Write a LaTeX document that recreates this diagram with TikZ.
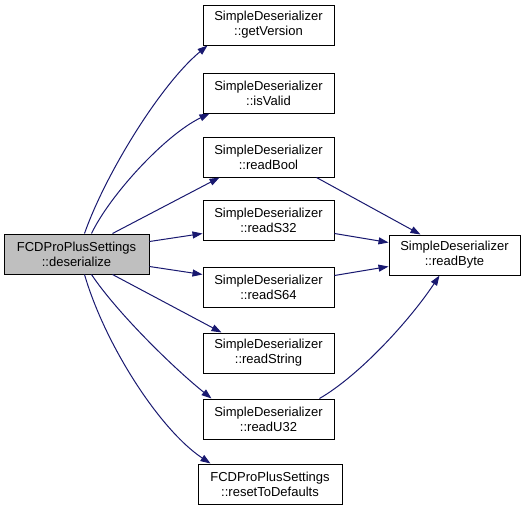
\documentclass[tikz,border=0pt]{standalone}
\usepackage{fontspec}
\setmainfont{Liberation Sans}
\usetikzlibrary{arrows.meta,calc}
\definecolor{edgeblue}{HTML}{191970}
\definecolor{hlgray}{HTML}{BFBFBF}
\begin{document}
\begin{tikzpicture}[x=1pt,y=-1pt,
  fn/.style={draw=black,line width=1pt,fill=white,minimum width=131pt,minimum height=40pt,
    inner sep=0pt,align=center,font=\fontsize{13}{15}\selectfont},
  call/.style={draw=edgeblue,line width=1pt,-{Triangle[length=10pt,width=7pt]},fill=none}]
\useasboundingbox (0,0) rectangle (525,509);
\node[fn,fill=hlgray,minimum width=145pt] (des) at (76.5,254) {FCDProPlusSettings\\::deserialize};
\node[fn] (gv) at (268.5,25) {SimpleDeserializer\\::getVersion};
\node[fn] (iv) at (268.5,93) {SimpleDeserializer\\::isValid};
\node[fn] (rb) at (268.5,157) {SimpleDeserializer\\::readBool};
\node[fn] (rs32) at (268.5,220) {SimpleDeserializer\\::readS32};
\node[fn] (rs64) at (268.5,287) {SimpleDeserializer\\::readS64};
\node[fn] (rstr) at (268.5,353) {SimpleDeserializer\\::readString};
\node[fn] (ru32) at (268.5,419) {SimpleDeserializer\\::readU32};
\node[fn,minimum width=144pt] (rtd) at (270,484) {FCDProPlusSettings\\::resetToDefaults};
\node[fn] (rbyte) at (454.5,255) {SimpleDeserializer\\::readByte};

\draw[call] ($(des.north west)+(81,0)$) .. controls (105,175) and (160,85) .. ($(gv.south west)+(5,0)$);
\draw[call] ($(des.north west)+(88,0)$) .. controls (110,195) and (165,135) .. ($(iv.south west)+(7,0)$);
\draw[call] ($(des.north west)+(109,0)$) -- ($(rb.south west)+(17,0)$);
\draw[call] ($(des.north east)+(0,8)$) -- ($(rs32.south west)+(0,-7)$);
\draw[call] ($(des.south east)+(0,-8)$) -- ($(rs64.north west)+(0,8)$);
\draw[call] ($(des.south west)+(109,0)$) -- ($(rstr.north west)+(19,0)$);
\draw[call] ($(des.south west)+(88,0)$) .. controls (115,310) and (170,365) .. ($(ru32.north west)+(9,0)$);
\draw[call] ($(des.south west)+(81,0)$) .. controls (105,345) and (160,430) .. ($(rtd.north west)+(13,0)$);

\draw[call] ($(rb.south west)+(114,0)$) -- ($(rbyte.north west)+(32,0)$);
\draw[call] ($(rs32.south east)+(0,-7)$) -- ($(rbyte.north west)+(0,8)$);
\draw[call] ($(rs64.north east)+(0,9)$) -- ($(rbyte.south west)+(0,-9)$);
\draw[call] ($(ru32.north west)+(117,0)$) .. controls (360,375) and (410,320) .. ($(rbyte.south west)+(51,0)$);
\end{tikzpicture}
\end{document}
